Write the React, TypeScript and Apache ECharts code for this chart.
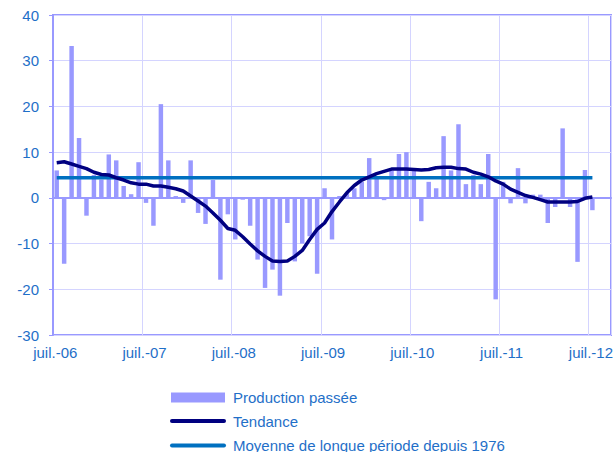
import React, { useEffect, useRef } from "react";
import * as echarts from "echarts";

const monthNames = ["juil.", "août", "sept.", "oct.", "nov.", "déc.", "janv.", "févr.", "mars", "avr.", "mai", "juin"];
const startYears = [6, 7, 8, 9, 10, 11, 12];

const categories: string[] = [];
startYears.forEach((y) => {
  monthNames.forEach((m, i) => {
    const yr = i < 6 ? y : y + 1;
    categories.push(m + "-" + String(yr).padStart(2, "0"));
  });
});
const shownCategories = categories.slice(0, 75);

const production = [
  6.0, -14.4, 33.2, 13.1, -3.9, 5.0, 4.0, 9.5, 8.2, 2.6, 0.8, 7.8,
  -1.1, -6.1, 20.5, 8.2, 0.4, -1.1, 8.2, -3.3, -5.7, 3.9, -17.9, -3.6,
  -9.1, -0.4, -6.1, -13.5, -19.7, -15.7, -21.4, -5.5, -13.9, -10.0, -8.4, -16.6,
  2.1, -9.1, 0.4, 1.1, 2.1, 3.5, 8.7, 4.3, -0.5, 6.0, 9.6, 10.0,
  6.0, -5.1, 3.5, 2.1, 13.5, 6.0, 16.1, 3.0, 5.0, 3.0, 9.6, -22.2,
  3.5, -1.2, 6.5, -1.2, 0.7, 0.7, -5.5, -2.0, 15.2, -2.0, -14.0, 6.1,
  -2.7,
];

const tendance = [
  7.7, 7.9, 7.4, 6.9, 6.4, 5.6, 5.1, 5.0, 4.4, 3.9, 3.3, 3.0,
  3.0, 2.6, 2.6, 2.3, 2.0, 1.5, 0.4, -0.7, -1.8, -3.3, -4.9, -6.7,
  -7.1, -8.5, -10.1, -11.6, -12.8, -13.8, -13.9, -13.8, -12.8, -11.5, -9.1, -6.9,
  -5.5, -3.0, -0.9, 1.1, 2.7, 3.9, 4.6, 5.3, 5.8, 6.3, 6.3, 6.3,
  6.2, 6.1, 6.2, 6.6, 6.7, 6.7, 6.4, 6.3, 5.6, 5.2, 4.6, 3.7,
  3.0, 1.9, 1.2, 0.5, 0.1, -0.4, -0.9, -0.9, -0.9, -0.9, -0.8, -0.1,
  0.2,
];

const moyenneLonguePeriode = 4.4;
const moyenne = production.map(() => moyenneLonguePeriode);

const yTicks = { min: -30, max: 40, interval: 10 };

const legendNames = ["Production passée", "Tendance", "Moyenne de longue période depuis 1976"];

const labelColor = "#1F6FC8";
const barColor = "#9999FF";
const trendColor = "#000080";
const meanColor = "#0070C0";
const font = "Arial, 'Liberation Sans', sans-serif";

export default function App() {
  const ref = useRef<HTMLDivElement>(null);
  useEffect(() => {
    if (!ref.current) return;
    const chart = echarts.init(ref.current, undefined, { renderer: "svg" });
    const legendX = 171;
    const textX = 233;
    const rowsY = [397.5, 421, 445.5];
    chart.setOption({
      animation: false,
      textStyle: { fontFamily: font },
      grid: {
        left: 53,
        right: 5,
        top: 15,
        bottom: 117,
        show: true,
        borderColor: "#9999FF",
        borderWidth: 2,
      },
      graphic: [
        {
          type: "rect",
          shape: { x: legendX, y: rowsY[0] - 5, width: 54, height: 10 },
          style: { fill: barColor },
        },
        {
          type: "line",
          shape: { x1: legendX + 1, y1: rowsY[1], x2: legendX + 53, y2: rowsY[1] },
          style: { stroke: trendColor, lineWidth: 4, lineCap: "round" },
        },
        {
          type: "line",
          shape: { x1: legendX + 1, y1: rowsY[2], x2: legendX + 53, y2: rowsY[2] },
          style: { stroke: meanColor, lineWidth: 4, lineCap: "round" },
        },
        ...legendNames.map((name, i) => ({
          type: "text",
          x: textX,
          y: rowsY[i],
          style: {
            text: name,
            fill: labelColor,
            font: "15px " + font,
            textVerticalAlign: "middle",
            verticalAlign: "middle",
          },
        })),
      ],
      xAxis: {
        type: "category",
        data: shownCategories,
        boundaryGap: true,
        axisLine: { show: true, lineStyle: { color: "#9999FF", width: 2 } },
        axisTick: { show: false },
        axisLabel: {
          interval: 11,
          color: labelColor,
          fontSize: 15,
          margin: 10,
          fontFamily: font,
          padding: [0, 3, 0, 0],
        },
        splitLine: { show: true, interval: 11, lineStyle: { color: "#D4D4FF", width: 1 } },
      },
      yAxis: {
        type: "value",
        min: yTicks.min,
        max: yTicks.max,
        interval: yTicks.interval,
        axisLine: { show: true, lineStyle: { color: "#9999FF", width: 2 } },
        axisTick: { show: true, length: 4, lineStyle: { color: "#9999FF" } },
        axisLabel: { color: labelColor, fontSize: 15, margin: 14, fontFamily: font },
        splitLine: { show: true, lineStyle: { color: "#D4D4FF", width: 1 } },
      },
      series: [
        {
          name: legendNames[0],
          type: "bar",
          data: production,
          barWidth: "60%",
          itemStyle: { color: barColor },
          z: 1,
        },
        {
          name: legendNames[2],
          type: "line",
          data: moyenne,
          symbol: "none",
          lineStyle: { color: meanColor, width: 3.5 },
          itemStyle: { color: meanColor },
          z: 2,
        },
        {
          name: legendNames[1],
          type: "line",
          data: tendance,
          symbol: "none",
          lineStyle: { color: trendColor, width: 3.5 },
          itemStyle: { color: trendColor },
          z: 3,
        },
      ],
    });
    return () => chart.dispose();
  }, []);
  return (
    <div
      ref={ref}
      style={{ position: "absolute", left: 0, top: 0, width: 616, height: 452 }}
    />
  );
}
